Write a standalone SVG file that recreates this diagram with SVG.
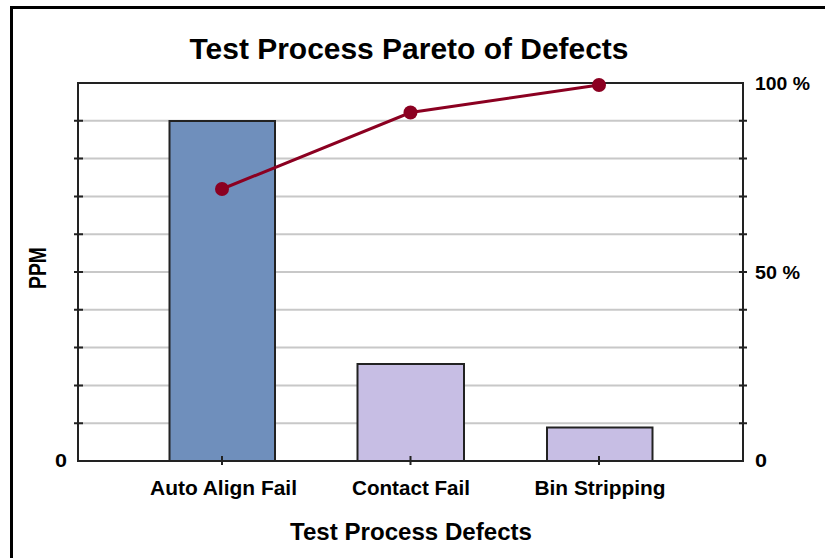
<svg xmlns="http://www.w3.org/2000/svg" width="825" height="558" viewBox="0 0 825 558">
<style>
text{font-family:"Liberation Sans",Arial,sans-serif;font-weight:bold;fill:#000}
.grid{stroke:#c8c8c8;stroke-width:2}
.axis{stroke:#222;stroke-width:2;fill:none}
.bar{stroke:#222;stroke-width:2}
.lbl{font-size:19px}
.cat{font-size:20.5px;text-anchor:middle}
</style>
<rect x="0" y="0" width="825" height="558" fill="#fff"/>
<rect x="11.5" y="7.5" width="900" height="600" fill="none" stroke="#000" stroke-width="3"/>
<text x="409" y="59" font-size="29.5" text-anchor="middle" textLength="439" lengthAdjust="spacingAndGlyphs">Test Process Pareto of Defects</text>
<g id="grid">
<line class="grid" x1="78" y1="120.8" x2="743" y2="120.8"/>
<line class="grid" x1="78" y1="158.6" x2="743" y2="158.6"/>
<line class="grid" x1="78" y1="196.4" x2="743" y2="196.4"/>
<line class="grid" x1="78" y1="234.2" x2="743" y2="234.2"/>
<line class="grid" x1="78" y1="272" x2="743" y2="272"/>
<line class="grid" x1="78" y1="309.8" x2="743" y2="309.8"/>
<line class="grid" x1="78" y1="347.6" x2="743" y2="347.6"/>
<line class="grid" x1="78" y1="385.4" x2="743" y2="385.4"/>
<line class="grid" x1="78" y1="423.2" x2="743" y2="423.2"/>
</g>
<g id="bar-auto-align"><rect class="bar" x="169.5" y="121" width="105.5" height="340" fill="#6f8fbc"/></g>
<g id="bar-contact"><rect class="bar" x="357.5" y="364" width="106.5" height="97" fill="#c7bee4"/></g>
<g id="bar-bin"><rect class="bar" x="547" y="427.5" width="105.5" height="33.5" fill="#c7bee4"/></g>
<g id="axes">
<rect class="axis" x="78" y="83" width="665" height="378"/>
<path class="axis" d="M74 120.8h9M74 158.6h9M74 196.4h9M74 234.2h9M74 272h9M74 309.8h9M74 347.6h9M74 385.4h9M74 423.2h9"/>
<path class="axis" d="M739 120.8h8M739 158.6h8M739 196.4h8M739 234.2h8M739 272h8M739 309.8h8M739 347.6h8M739 385.4h8M739 423.2h8"/>
<path class="axis" d="M222 456v9M410.5 456v9M599 456v9"/>
</g>
<g id="connectors">
<polyline points="222,189 410.5,112.5 599,85" fill="none" stroke="#8b0021" stroke-width="3"/>
<circle cx="222" cy="189" r="7" fill="#8b0021"/>
<circle cx="410.5" cy="112.5" r="7" fill="#8b0021"/>
<circle cx="599" cy="85" r="7" fill="#8b0021"/>
</g>
<text class="lbl" x="55" y="467" textLength="12" lengthAdjust="spacingAndGlyphs">0</text>
<text class="lbl" x="755" y="90" textLength="55" lengthAdjust="spacingAndGlyphs">100 %</text>
<text class="lbl" x="755" y="279" textLength="45" lengthAdjust="spacingAndGlyphs">50 %</text>
<text class="lbl" x="755" y="467" textLength="12" lengthAdjust="spacingAndGlyphs">0</text>
<text x="0" y="0" font-size="24" text-anchor="middle" textLength="42" lengthAdjust="spacingAndGlyphs" transform="translate(46,268) rotate(-90)">PPM</text>
<text class="cat" x="223.5" y="495" textLength="147" lengthAdjust="spacingAndGlyphs">Auto Align Fail</text>
<text class="cat" x="411" y="495" textLength="118" lengthAdjust="spacingAndGlyphs">Contact Fail</text>
<text class="cat" x="600" y="495" textLength="131" lengthAdjust="spacingAndGlyphs">Bin Stripping</text>
<text x="411" y="540" font-size="24" text-anchor="middle" textLength="242" lengthAdjust="spacingAndGlyphs">Test Process Defects</text>
</svg>
